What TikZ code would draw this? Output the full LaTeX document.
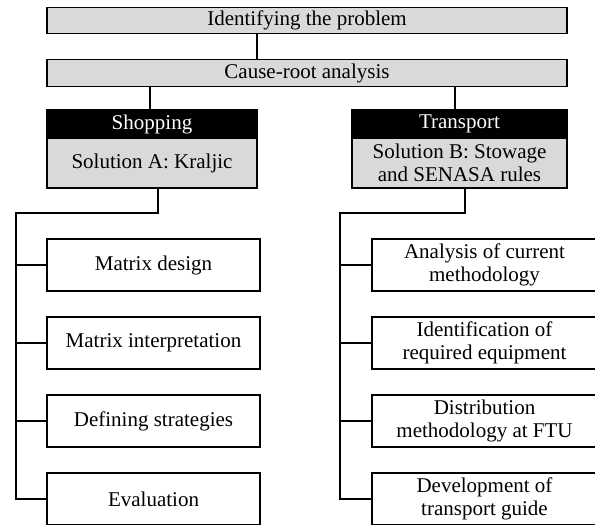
\documentclass[tikz,border=0pt]{standalone}
\usepackage{fontspec}
\setmainfont{Liberation Serif}
\definecolor{boxgray}{HTML}{D9D9D9}
\begin{document}
\begin{tikzpicture}[x=1pt,y=-1pt,
  every node/.style={font=\fontsize{21}{23.5}\selectfont, inner sep=0pt, outer sep=0pt, align=center},
  graybar/.style={draw=black, fill=boxgray, line width=1.2pt, minimum height=26.5pt},
  header/.style={draw=black, fill=black, text=white, line width=1.2pt, minimum height=28pt},
  solbox/.style={draw=black, fill=boxgray, line width=1.2pt, minimum height=50pt},
  stepbox/.style={draw=black, fill=white, line width=1.2pt, minimum height=52pt},
  conn/.style={line width=1.3pt}]
\path[use as bounding box, clip] (0,0) rectangle (595,525);

% coordinates for connector columns
\coordinate (xtop) at (257,0);
\coordinate (xa) at (150,0);
\coordinate (xb) at (455,0);
\coordinate (xa2) at (158,0);
\coordinate (xb2) at (465,0);
\coordinate (ta) at (16,213);
\coordinate (tb) at (340,213);

\node[graybar, minimum width=520pt] (top) at (307,20.5) {Identifying the problem};
\node[graybar, minimum width=520pt] (cause) at (307,73) {Cause-root analysis};

\node[header, minimum width=210pt] (shop) at (152,124) {Shopping};
\node[solbox, minimum width=210pt] (solA) at (152,163) {Solution A: Kraljic};
\node[header, minimum width=215pt] (trans) at (459.5,124) {Transport};
\node[solbox, minimum width=215pt] (solB) at (459.5,163) {Solution B: Stowage\\and SENASA rules};

\node[stepbox, minimum width=213pt] (a1) at (153.5,265) {Matrix design};
\node[stepbox, minimum width=213pt] (a2) at (153.5,343) {Matrix interpretation};
\node[stepbox, minimum width=213pt] (a3) at (153.5,421) {Defining strategies};
\node[stepbox, minimum width=213pt] (a4) at (153.5,499) {Evaluation};

\node[stepbox, minimum width=225pt] (b1) at (484.5,265) {Analysis of current\\methodology};
\node[stepbox, minimum width=225pt] (b2) at (484.5,343) {Identification of\\required equipment};
\node[stepbox, minimum width=225pt] (b3) at (484.5,421) {Distribution\\methodology at FTU};
\node[stepbox, minimum width=225pt] (b4) at (484.5,499) {Development of\\transport guide};

\draw[conn] (top.south -| xtop) -- (cause.north -| xtop);
\draw[conn] (cause.south -| xa) -- (shop.north -| xa);
\draw[conn] (cause.south -| xb) -- (trans.north -| xb);

\draw[conn] (solA.south -| xa2) -- (ta -| xa2) -- (ta) -- (ta |- a4.west) -- (a4.west);
\draw[conn] (ta |- a1.west) -- (a1.west);
\draw[conn] (ta |- a2.west) -- (a2.west);
\draw[conn] (ta |- a3.west) -- (a3.west);

\draw[conn] (solB.south -| xb2) -- (tb -| xb2) -- (tb) -- (tb |- b4.west) -- (b4.west);
\draw[conn] (tb |- b1.west) -- (b1.west);
\draw[conn] (tb |- b2.west) -- (b2.west);
\draw[conn] (tb |- b3.west) -- (b3.west);
\end{tikzpicture}
\end{document}
